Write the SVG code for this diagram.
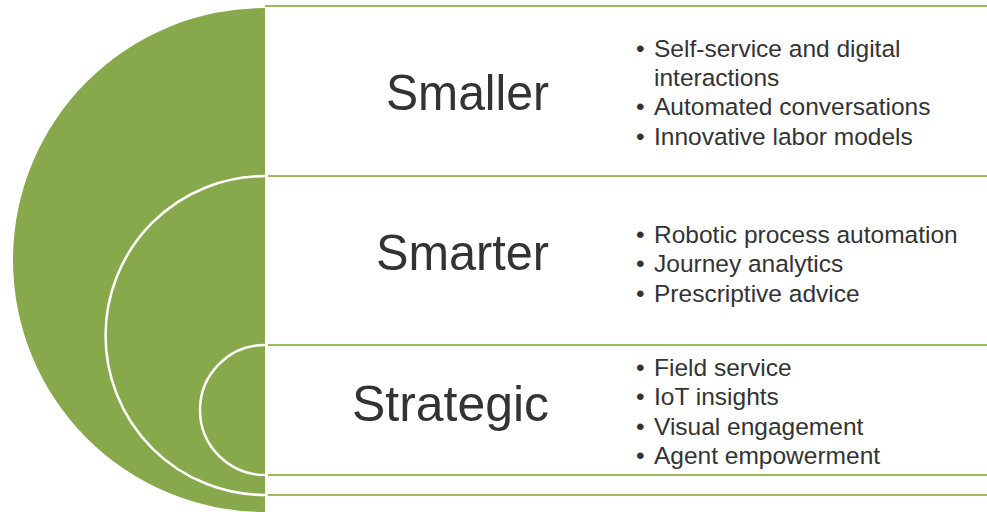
<svg xmlns="http://www.w3.org/2000/svg" width="987" height="512" viewBox="0 0 987 512">
<style>
.rule{stroke:#9bbb59;stroke-width:2;fill:none}
.arc{stroke:#ffffff;stroke-width:2.5;fill:none}
.title{font-family:"Liberation Sans",Arial,sans-serif;font-size:50px;fill:#333333}
.item{font-family:"Liberation Sans",Arial,sans-serif;font-size:24.5px;fill:#333333}
</style>
<rect width="987" height="512" fill="#ffffff"/>
<g id="connectors">
<line class="rule" x1="265" y1="6" x2="987" y2="6"/>
<line class="rule" x1="268" y1="176" x2="987" y2="176"/>
<line class="rule" x1="268" y1="345" x2="987" y2="345"/>
<line class="rule" x1="268" y1="475" x2="987" y2="475"/>
<line class="rule" x1="268" y1="495" x2="987" y2="495"/>
</g>
<g id="disc">
<path d="M265,8 A252,252 0 0 0 265,512 Z" fill="#88a84c"/>
<path class="arc" d="M265,176 A159.5,159.5 0 0 0 265,495"/>
<path class="arc" d="M265,345 A65,65 0 0 0 265,475"/>
</g>
<g id="smaller">
<text class="title" x="386" y="110" textLength="163" lengthAdjust="spacingAndGlyphs">Smaller</text>
<text class="item" x="636" y="57">•<tspan x="654">Self-service and digital</tspan></text>
<text class="item" x="654" y="86">interactions</text>
<text class="item" x="636" y="115">•<tspan x="654">Automated conversations</tspan></text>
<text class="item" x="636" y="145">•<tspan x="654">Innovative labor models</tspan></text>
</g>
<g id="smarter">
<text class="title" x="376" y="270" textLength="173" lengthAdjust="spacingAndGlyphs">Smarter</text>
<text class="item" x="636" y="243">•<tspan x="654">Robotic process automation</tspan></text>
<text class="item" x="636" y="272">•<tspan x="654">Journey analytics</tspan></text>
<text class="item" x="636" y="302">•<tspan x="654">Prescriptive advice</tspan></text>
</g>
<g id="strategic">
<text class="title" x="352" y="421" textLength="197" lengthAdjust="spacingAndGlyphs">Strategic</text>
<text class="item" x="636" y="376">•<tspan x="654">Field service</tspan></text>
<text class="item" x="636" y="405">•<tspan x="654">IoT insights</tspan></text>
<text class="item" x="636" y="435">•<tspan x="654">Visual engagement</tspan></text>
<text class="item" x="636" y="464">•<tspan x="654">Agent empowerment</tspan></text>
</g>
</svg>
